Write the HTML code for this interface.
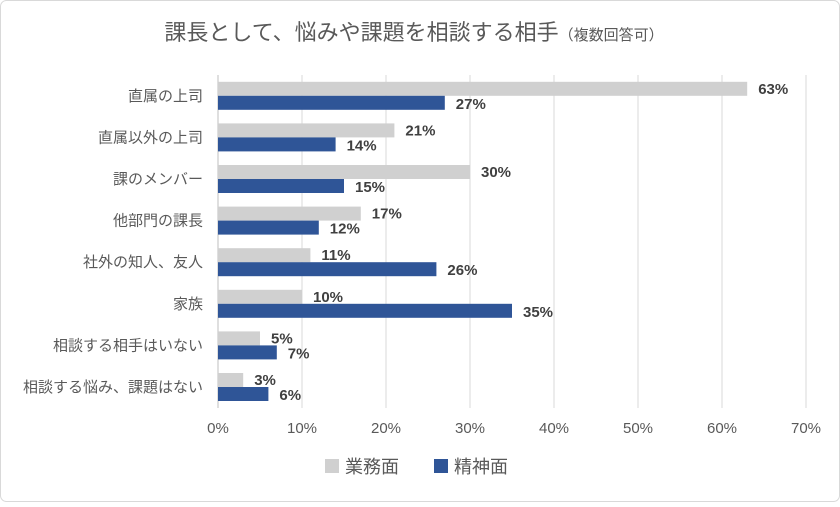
<!DOCTYPE html>
<html><head><meta charset="utf-8"><style>
body{margin:0;background:#fff;}
svg text{font-family:"Liberation Sans","Noto Sans CJK JP",sans-serif;}
</style></head><body>
<svg id="chart" width="840" height="502" viewBox="0 0 840 502">
<rect x="0.5" y="0.5" width="839" height="501" rx="6" fill="#fff" stroke="#d9d9d9"/>
<text x="414" y="40" text-anchor="middle" font-size="22" fill="#595959">課長として、悩みや課題を相談する相手<tspan font-size="15">（複数回答可）</tspan></text>
<g id="grid"></g><g id="bars"></g><g id="labels"></g>
<g>
<rect x="325" y="459" width="14" height="14" fill="#d0d0d0"/>
<text x="345" y="473" font-size="18" fill="#595959">業務面</text>
<rect x="434" y="459" width="14" height="14" fill="#2f5597"/>
<text x="454" y="473" font-size="18" fill="#595959">精神面</text>
</g>
</svg>
<script>
const categories=["直属の上司","直属以外の上司","課のメンバー","他部門の課長","社外の知人、友人","家族","相談する相手はいない","相談する悩み、課題はない"];
const businessValues=[63,21,30,17,11,10,5,3];
const mentalValues=[27,14,15,12,26,35,7,6];
const tickValues=[0,10,20,30,40,50,60,70];
(function(){
const NS="http://www.w3.org/2000/svg";
const x0=218,pxPer=8.4,plotTop=75,rowH=41.6,barH=14;
const xs=v=>x0+v*pxPer;
const yc=i=>plotTop+rowH*(i+0.5);
function mk(tag,attrs,parent,txt){const e=document.createElementNS(NS,tag);for(const k in attrs)e.setAttribute(k,attrs[k]);if(txt!=null)e.textContent=txt;document.getElementById(parent).appendChild(e);return e;}
tickValues.forEach(t=>{
 const l=mk('line',{x1:xs(t),x2:xs(t),y1:plotTop,y2:408,stroke:'#d9d9d9','stroke-width':1},'grid');
 
 
 const tx=mk('text',{x:xs(t),y:433,'text-anchor':'middle','font-size':15,fill:'#595959'},'labels',t+'%');
 
 
});
categories.forEach((c,i)=>{
 const y=yc(i);
 const ct=mk('text',{x:203,y:y+5,'text-anchor':'end','font-size':15,fill:'#595959'},'labels',c);
 
 
 const b=mk('rect',{x:x0,y:y-barH,width:businessValues[i]*pxPer,height:barH,fill:'#d0d0d0'},'bars');
 
 
 const m=mk('rect',{x:x0,y:y,width:mentalValues[i]*pxPer,height:barH,fill:'#2f5597'},'bars');
 
 
 const bl=mk('text',{x:xs(businessValues[i])+11,y:y-2,'font-size':15,'font-weight':'bold',fill:'#404040'},'labels',businessValues[i]+'%');
 
 
 const ml=mk('text',{x:xs(mentalValues[i])+11,y:y+13,'font-size':15,'font-weight':'bold',fill:'#404040'},'labels',mentalValues[i]+'%');
 
 
});
const ax=mk('line',{x1:x0,x2:x0,y1:plotTop,y2:408,stroke:'#bfbfbf'},'grid');


})();
</script>
</body></html>
